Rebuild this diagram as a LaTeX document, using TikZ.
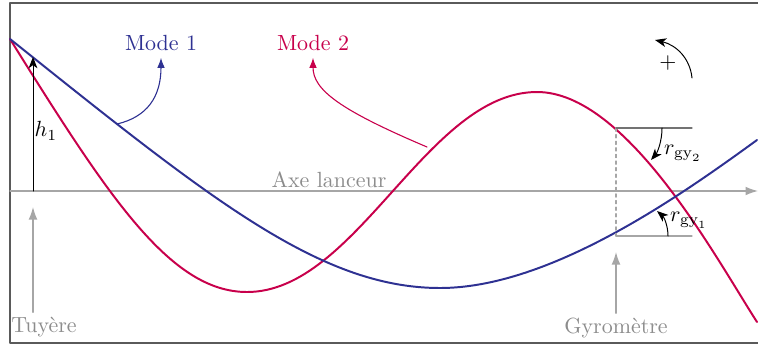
\documentclass[tikz,border=0pt]{standalone}
\usepackage{amsmath}
\usepackage{xcolor}
\usepackage{tikz}
\usetikzlibrary{arrows.meta}
\definecolor{modeone}{HTML}{2E3192}
\definecolor{modetwo}{HTML}{C8004B}
\definecolor{axisgray}{HTML}{A6A6A6}
\definecolor{labelgray}{HTML}{8C8C8C}
\definecolor{framegray}{HTML}{5A5A5A}
\tikzset{
  mode diagram/.style={
    x=0.016cm,
    y=-0.016cm,
    line cap=round,
    line join=round
  },
  modecurve/.style={
    line width=0.9pt
  },
  modelabel/.style={
    inner sep=3pt
  },
  graylabel/.style={
    text=labelgray,
    inner sep=2pt
  },
  pointer/.style={
    -{Latex[length=1.6mm,width=1.2mm]},
    line width=0.5pt
  },
  grayarrow/.style={
    -{Latex[length=2mm,width=1.4mm]},
    draw=axisgray,
    line width=0.6pt
  },
  anglearrow/.style={
    -{Stealth[length=1.8mm,width=1.4mm,inset=0.5mm]},
    draw=black,
    line width=0.45pt
  },
  refline/.style={
    line width=0.5pt
  }
}

\begin{document}
\begin{tikzpicture}[mode diagram]
\useasboundingbox (0,0) rectangle (758,347);
\clip (0,0) rectangle (758,347);
\draw[framegray, line width=0.5pt] (10,3) rectangle (775,343);

% axe lanceur
\coordinate (axisstart) at (10,191);
\coordinate (axisend) at (758,191);
\draw[grayarrow] (axisstart) -- (axisend);
\node[graylabel] (axe) at (329,180) {Axe lanceur};

% deformees modales
\coordinate (root) at (10,39);
\draw[modetwo, modecurve] (root)
  .. controls (108,196) and (170,292) .. (247,292)
  .. controls (357,292) and (427,92) .. (537,92)
  .. controls (627,92) and (717,260) .. (757,322);
\draw[modeone, modecurve] (root)
  .. controls (210,199) and (320,288) .. (440,288)
  .. controls (550,288) and (680,196) .. (757,140);

% hauteur
\coordinate (nozzle) at (33,191);
\coordinate (htop) at (33,57);
\draw[anglearrow] (nozzle) -- (htop);
\node (hone) at (46,131) {$h_1$};

% etiquettes des modes
\node[modelabel, text=modeone] (mode1) at (161,43) {Mode 1};
\node[modelabel, text=modetwo] (mode2) at (313,43) {Mode 2};
\coordinate (m1foot) at (117,124);
\coordinate (m2foot) at (427,147);
\draw[pointer, modeone] (m1foot) .. controls (147,117) and (161,97) .. (mode1);
\draw[pointer, modetwo] (m2foot) .. controls (340,110) and (313,90) .. (mode2);

% tuyere et gyrometre
\node[graylabel] (tuyere) at (44,327) {Tuy\`ere};
\coordinate (nozzletip) at (33,207);
\draw[grayarrow] (tuyere.north -| nozzletip) -- (nozzletip);
\node[graylabel] (gyro) at (616,328) {Gyrom\`etre};
\coordinate (gyrotip) at (616,252);
\draw[grayarrow] (gyro.north) -- (gyrotip);

% angles au gyrometre
\coordinate (gytwo) at (616,128);
\coordinate (gyone) at (616,236);
\coordinate (gytwoend) at (692,128);
\coordinate (gyoneend) at (692,236);
\draw[axisgray, refline, dash pattern=on 1.5pt off 1.5pt] (gytwo) -- (gyone);
\draw[black!55, refline] (gytwo) -- (gytwoend);
\draw[axisgray, refline] (gyone) -- (gyoneend);
\coordinate (gytwoarc) at (662,128);
\coordinate (gytwohit) at (651,160);
\coordinate (gyonearc) at (668,236);
\coordinate (gyonehit) at (657,211);
\draw[anglearrow] (gytwoarc) .. controls (662,142) and (657,153) .. (gytwohit);
\draw[anglearrow] (gyonearc) .. controls (668,226) and (664,217) .. (gyonehit);
\node (rgytwo) at (683,153) {$r_{\mathrm{gy}_2}$};
\node (rgyone) at (689,220) {$r_{\mathrm{gy}_1}$};

% sens positif
\coordinate (rotstart) at (692,78);
\coordinate (rotend) at (655,40);
\draw[anglearrow] (rotstart) .. controls (690,58) and (676,45) .. (rotend);
\node (plus) at (668,63) {$+$};
\end{tikzpicture}
\end{document}
